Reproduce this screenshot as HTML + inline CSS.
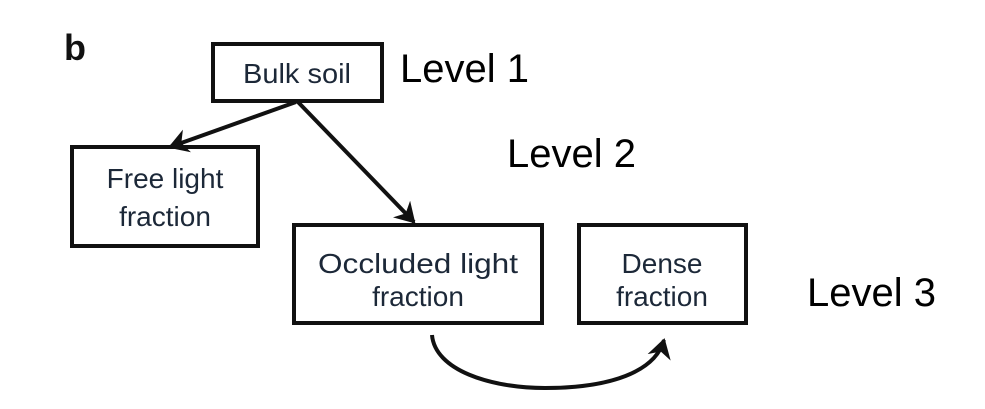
<!DOCTYPE html>
<html><head><style>
html,body{margin:0;padding:0;background:#fff;}
svg{display:block;}
.bx{font-family:"Liberation Sans",sans-serif;font-size:28px;fill:#1c2838;text-anchor:middle;}
.lv{font-family:"Liberation Sans",sans-serif;font-size:40px;fill:#000;}
</style></head><body>
<svg width="985" height="409" viewBox="0 0 985 409" xmlns="http://www.w3.org/2000/svg">
<defs>
<marker id="ah" markerWidth="6" markerHeight="6" refX="4.5" refY="3" orient="auto" markerUnits="strokeWidth">
<path d="M0,0 L5,3 L0,6 L1.5,3 Z" fill="#111"/>
</marker>
</defs>
<text x="64" y="60" font-family="Liberation Sans,sans-serif" font-weight="bold" font-size="36" fill="#111">b</text>
<g fill="none" stroke="#111" stroke-width="4">
<rect x="213" y="44" width="169" height="57"/>
<rect x="72" y="147" width="186" height="99"/>
<rect x="294" y="225" width="248" height="98"/>
<rect x="579" y="225" width="167" height="98"/>
<line x1="296" y1="102" x2="170" y2="147" marker-end="url(#ah)"/>
<line x1="298" y1="102" x2="414" y2="222" marker-end="url(#ah)"/>
<path d="M432,335 C435,370 490,388 545,388 C610,388 655,372 664,340" marker-end="url(#ah)"/>
</g>
<text class="bx" x="297" y="83" textLength="108" lengthAdjust="spacingAndGlyphs">Bulk soil</text>
<text class="bx" x="165" y="188">Free light</text>
<text class="bx" x="165" y="226">fraction</text>
<text class="bx" x="418" y="273" textLength="200" lengthAdjust="spacingAndGlyphs">Occluded light</text>
<text class="bx" x="418" y="306">fraction</text>
<text class="bx" x="662" y="273">Dense</text>
<text class="bx" x="662" y="306">fraction</text>
<text class="lv" x="400" y="82">Level 1</text>
<text class="lv" x="507" y="167">Level 2</text>
<text class="lv" x="807" y="306">Level 3</text>
</svg>
</body></html>
